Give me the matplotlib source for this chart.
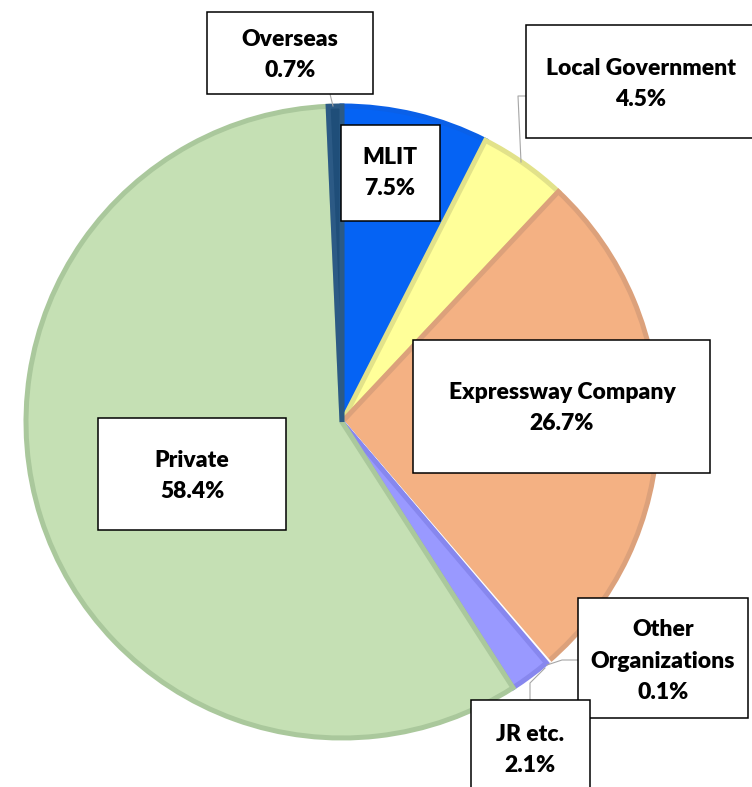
import matplotlib
matplotlib.use("Agg")
import matplotlib.pyplot as plt
from matplotlib.patches import Rectangle

categories = ["MLIT", "Local Government", "Expressway Company", "Other\nOrganizations",
              "JR etc.", "Private", "Overseas"]
shares = [7.5, 4.5, 26.7, 0.1, 2.1, 58.4, 0.7]
fills = ["#0563f4", "#ffff99", "#f4b183", "#f4f4f4", "#9999ff", "#c5e0b4", "#1f4e79"]
edges = ["#0a60e8", "#e2e28a", "#dca17b", "#ffffff", "#8787ee", "#aac89c", "#2c5a85"]

W, H = 752, 787
fig = plt.figure(figsize=(W / 100, H / 100), dpi=100)
ax = fig.add_axes([0, 0, 1, 1])

cx, cy, r = 342, H - 422, 316
wedges, _ = ax.pie(shares, colors=fills, startangle=90, counterclock=False,
                   center=(cx, cy), radius=r,
                   wedgeprops=dict(linewidth=3.6))
for w, ec in zip(wedges, edges):
    w.set_edgecolor(ec)

ax.set_xlim(0, W)
ax.set_ylim(0, H)
ax.set_aspect("equal")
ax.axis("off")

# label boxes (pixel coords, top-left origin): x0, y0, x1, y1
boxes = {
    "MLIT": (341, 125, 440, 221),
    "Local Government": (526, 25, 760, 138),
    "Expressway Company": (413, 340, 710, 473),
    "Other\nOrganizations": (578, 598, 748, 718),
    "JR etc.": (471, 700, 590, 800),
    "Private": (98, 418, 286, 530),
    "Overseas": (207, 12, 373, 94),
}
text_centers = {
    "MLIT": (390, 173),
    "Local Government": (641, 84),
    "Expressway Company": (562, 408),
    "Other\nOrganizations": (663, 661),
    "JR etc.": (530, 750),
    "Private": (192, 476),
    "Overseas": (290, 55),
}

# leader lines (pixel coords)
leaders = [
    [(330, 94), (333, 106)],
    [(526, 96), (518, 96), (521, 162)],
    [(547, 665), (562, 660), (578, 660)],
    [(530, 700), (530, 683), (545, 668)],
]
for pts in leaders:
    xs = [p[0] for p in pts]
    ys = [H - p[1] for p in pts]
    ax.plot(xs, ys, color="#a6a6a6", lw=0.8, zorder=3)

for cat, val in zip(categories, shares):
    x0, y0, x1, y1 = boxes[cat]
    ax.add_patch(Rectangle((x0, H - y1), x1 - x0, y1 - y0, facecolor="white",
                           edgecolor="black", lw=1.1, zorder=4, clip_on=False))
    tx, ty = text_centers[cat]
    ax.text(tx, H - ty, f"{cat}\n{val:.1f}%", ha="center", va="center",
            fontsize=16.5, fontweight="heavy", family="Lato", color="black",
            linespacing=1.6, zorder=5)

fig.savefig("out.png", dpi=100)
